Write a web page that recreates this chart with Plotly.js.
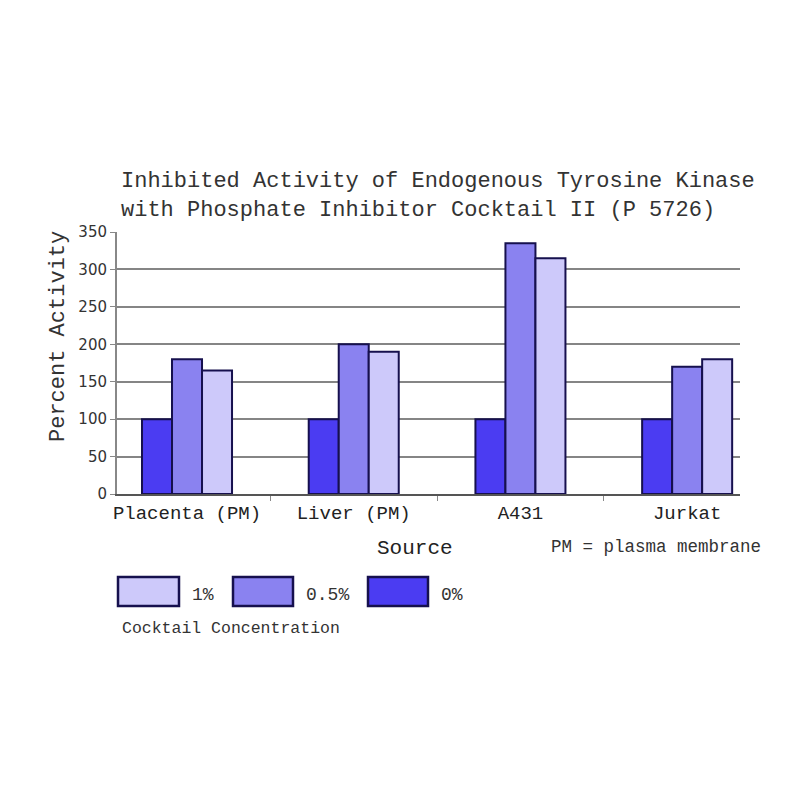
<!DOCTYPE html>
<html>
<head>
<meta charset="utf-8">
<script src="https://cdn.plot.ly/plotly-3.0.1.min.js"></script>
<style>html,body{margin:0;padding:0;background:#fff;}#chart{width:800px;height:800px;}</style>
</head>
<body>
<div id="chart"></div>
<script>
// Data
const sources = ["Placenta (PM)", "Liver (PM)", "A431", "Jurkat"];
const seriesNames = ["0%", "0.5%", "1%"];
const conc0 = [100, 100, 100, 100];
const conc05 = [180, 200, 335, 170];
const conc1 = [165, 190, 315, 180];
const yTicks = [0, 50, 100, 150, 200, 250, 300, 350];

// Styles
const colors = ["#4b3cf2", "#8a82f0", "#cdc9fa"];
const outline = "#16104e";
const mono = "Liberation Mono, Courier New, monospace";

const seriesValues = [conc0, conc05, conc1];
const traces = seriesValues.map((vals, i) => ({
  type: "bar",
  name: seriesNames[i],
  x: sources,
  y: vals,
  marker: {color: colors[i], line: {color: outline, width: 2}},
  hoverinfo: "x+y+name"
}));

// Plot area in pixels: x 117..740, y 232..494
const L = 117, R = 740, T = 232, B = 494;
const px = v => (v - L) / (R - L);
const py = v => (B - v) / (B - T);

// Legend boxes (1%, 0.5%, 0%) built as shapes
const legendOrder = [2, 1, 0];
const boxX = [[118, 179], [233, 293], [368, 428]];
const labelX = [190, 304, 439];
const shapes = [];
const annotations = [];
legendOrder.forEach((si, k) => {
  shapes.push({
    type: "rect", xref: "paper", yref: "paper",
    x0: px(boxX[k][0]), x1: px(boxX[k][1]), y0: py(577), y1: py(606),
    fillcolor: colors[si], line: {color: outline, width: 2.5}
  });
  annotations.push({
    xref: "paper", yref: "paper", x: px(labelX[k]), y: py(595),
    xanchor: "left", yanchor: "middle", showarrow: false,
    text: seriesNames[si],
    font: {family: mono, size: 18, color: "#333"}
  });
});

annotations.push(
  {xref: "paper", yref: "paper", x: px(120), y: py(628), xanchor: "left", yanchor: "middle",
   showarrow: false, text: "Cocktail Concentration", font: {family: mono, size: 16.5, color: "#333"}},
  {xref: "paper", yref: "paper", x: px(415), y: py(548), xanchor: "center", yanchor: "middle",
   showarrow: false, text: "Source", font: {family: mono, size: 21, color: "#222"}},
  {xref: "paper", yref: "paper", x: px(549), y: py(547), xanchor: "left", yanchor: "middle",
   showarrow: false, text: "PM = plasma membrane", font: {family: mono, size: 17.5, color: "#333"}},
  {xref: "paper", yref: "paper", x: px(58), y: py(337), xanchor: "center", yanchor: "middle",
   showarrow: false, textangle: -90, text: "Percent Activity", font: {family: mono, size: 22, color: "#333"}}
);

const layout = {
  width: 800, height: 800,
  margin: {l: L, r: 800 - R, t: T, b: 800 - B, pad: 0},
  paper_bgcolor: "#fff", plot_bgcolor: "#fff",
  showlegend: false,
  barmode: "group",
  bargap: 0.46,
  bargroupgap: 0,
  title: {
    text: "Inhibited Activity of Endogenous Tyrosine Kinase<br>with Phosphate Inhibitor Cocktail II (P 5726)",
    x: 121 / 800, xanchor: "left", xref: "container",
    y: 1 - 187 / 800, yanchor: "middle", yref: "container",
    font: {family: mono, size: 22, color: "#333"}
  },
  xaxis: {
    type: "category",
    range: [-0.42, 3.317],
    showgrid: false,
    tickson: "boundaries",
    ticks: "outside", ticklen: 5, tickcolor: "#888", tickwidth: 1,
    tickfont: {family: mono, size: 19, color: "#222"},
    showline: true, linecolor: "#555", linewidth: 2,
    zeroline: false
  },
  yaxis: {
    range: [0, 350],
    tickvals: yTicks,
    ticktext: yTicks.map(String),
    showgrid: true, gridcolor: "#858585", gridwidth: 2,
    ticks: "outside", ticklen: 5, tickcolor: "#888", tickwidth: 1,
    tickfont: {family: "DejaVu Sans, Verdana, sans-serif", size: 15, color: "#333"},
    showline: true, linecolor: "#888", linewidth: 2,
    zeroline: false
  },
  shapes: shapes,
  annotations: annotations
};

Plotly.newPlot("chart", traces, layout, {displayModeBar: false, staticPlot: true});
</script>
</body>
</html>
